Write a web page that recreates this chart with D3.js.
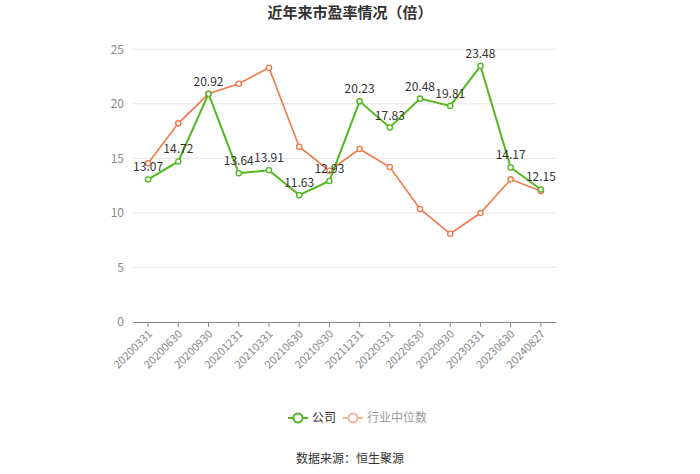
<!DOCTYPE html>
<html><head><meta charset="utf-8">
<script src="https://cdn.jsdelivr.net/npm/d3@7"></script>
<style>
body{margin:0;background:#fff;}
text{font-family:"Noto Sans CJK SC","Noto Sans",sans-serif;}
</style></head>
<body><svg id="c" width="700" height="474"></svg>
<script>
const categories = ["20200331","20200630","20200930","20201231","20210331","20210630","20210930","20211231","20220331","20220630","20220930","20230331","20230630","20240827"];
const companyPE = [13.07,14.72,20.92,13.64,13.91,11.63,12.93,20.23,17.83,20.48,19.81,23.48,14.17,12.15];
const industryPE = [14.55,18.21,20.92,21.84,23.31,16.07,13.87,15.86,14.21,10.36,8.09,9.99,13.08,12.01];
const yTicks = [0,5,10,15,20,25];
const seriesNames = ["公司","行业中位数"];
const colors = ["#52b720","#f0794a"];

(function(){
const svg = d3.select("#c");
const mL=133, mR=556, mT=49.3, mB=322;
const x = d3.scaleBand().domain(categories).range([mL,mR]);
const y = d3.scaleLinear().domain([0,25]).range([mB,mT]);

svg.append("text").attr("x",350).attr("y",18).attr("text-anchor","middle")
  .attr("font-size",15).attr("font-weight","bold").attr("fill","#333").text("近年来市盈率情况（倍）");

// grid
svg.append("g").selectAll("line").data(yTicks.filter(d=>d>0)).join("line")
  .attr("x1",mL).attr("x2",mR).attr("y1",d=>y(d)).attr("y2",d=>y(d))
  .attr("stroke","#e6e6e6").attr("stroke-width",1);

// y axis
const ya = svg.append("g").attr("transform",`translate(${mL},0)`)
  .call(d3.axisLeft(y).tickValues(yTicks).tickSize(0).tickPadding(9));
ya.select(".domain").remove();
ya.selectAll("text").attr("font-size",12).attr("fill","#888").attr("font-family","'Noto Sans CJK SC',sans-serif");

// x axis
const xa = svg.append("g").attr("transform",`translate(0,${mB})`)
  .call(d3.axisBottom(x).tickSize(5).tickSizeOuter(0));
xa.select(".domain").attr("stroke","#888");
xa.selectAll(".tick line").attr("stroke","#888");
xa.selectAll("text").attr("font-size",11).attr("fill","#888")
  .attr("font-family","'Noto Sans CJK SC',sans-serif")
  .attr("x",0).attr("y",0).attr("dy","0.35em")
  .attr("text-anchor","end").attr("transform","translate(2,10) rotate(-45)");

const cx = d=>x(d)+x.bandwidth()/2;
const line = d3.line().x((d,i)=>cx(categories[i])).y(d=>y(d));

[[industryPE,1,1.6],[companyPE,0,2]].forEach(([vals,ci,w])=>{
  svg.append("path").datum(vals).attr("d",line).attr("fill","none")
    .attr("stroke",colors[ci]).attr("stroke-width",w);
  svg.append("g").selectAll("circle").data(vals).join("circle")
    .attr("cx",(d,i)=>cx(categories[i])).attr("cy",d=>y(d)).attr("r",2.6)
    .attr("fill","#fff").attr("stroke",colors[ci]).attr("stroke-width",1.4);
});

svg.append("g").selectAll("text").data(companyPE).join("text")
  .attr("x",(d,i)=>cx(categories[i])).attr("y",d=>y(d)-8)
  .attr("text-anchor","middle").attr("font-size",12).attr("fill","#333")
  .text(d=>d.toFixed(2));

// legend
const lg = svg.append("g");
const items=[{x:288,tx:312},{x:343,tx:367}];
items.forEach((it,i)=>{
  lg.append("line").attr("x1",it.x).attr("x2",it.x+20).attr("y1",418).attr("y2",418)
    .attr("stroke",i==0?colors[0]:"#f4b49a").attr("stroke-width",2);
  lg.append("circle").attr("cx",it.x+10).attr("cy",418).attr("r",4.5).attr("fill","#fff")
    .attr("stroke",i==0?colors[0]:"#f4b49a").attr("stroke-width",2);
  lg.append("text").attr("x",it.tx).attr("y",422).attr("font-size",12)
    .attr("fill",i==0?"#333":"#999").text(seriesNames[i]);
});

svg.append("text").attr("x",350).attr("y",463).attr("text-anchor","middle")
  .attr("font-size",12).attr("fill","#333").text("数据来源：恒生聚源");
})();
</script></body></html>
